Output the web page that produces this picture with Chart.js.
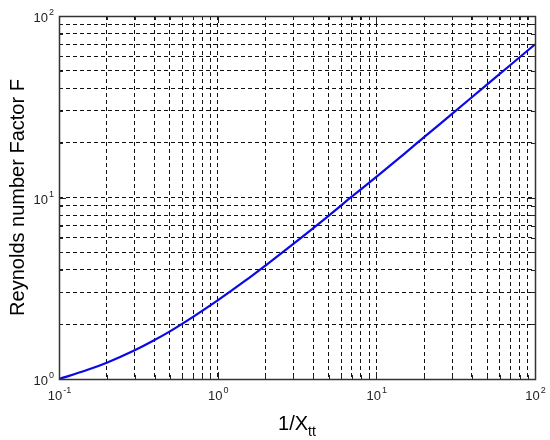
<!DOCTYPE html>
<html>
<head>
<meta charset="utf-8">
<script src="https://cdn.jsdelivr.net/npm/chart.js@4"></script>
<style>
  html, body { margin: 0; padding: 0; background: #fff; }
  #wrap { width: 550px; height: 440px; }
</style>
</head>
<body>
<div id="wrap"><canvas id="myChart" width="550" height="440"></canvas></div>
<script>
// values
var invXtt = [0.1, 0.15, 0.2, 0.3, 0.4, 0.5, 0.7, 1, 1.5, 2, 3, 5, 7, 10, 15, 20, 30, 50, 70, 100];
var factorF = [1.0, 1.12, 1.23, 1.44, 1.64, 1.83, 2.2, 2.71, 3.49, 4.22, 5.55, 7.92, 10.1, 13.0, 17.4, 21.5, 28.9, 42.0, 53.7, 69.8];

// grid lines (1..9 per decade) and labelled decades
var xGrid = [0.1,0.2,0.3,0.4,0.5,0.6,0.7,0.8,0.9,1,2,3,4,5,6,7,8,9,10,20,30,40,50,60,70,80,90,100];
var yGrid = [1,2,3,4,5,6,7,8,9,10,20,30,40,50,60,70,80,90,100];
var xDecades = [[0.1, '-1'], [1, '0'], [10, '1'], [100, '2']];
var yDecades = [[1, '0'], [10, '1'], [100, '2']];

var fontName = '"Liberation Sans", Arial, sans-serif';

function setTicks(list) {
    return function(scale) {
        scale.ticks = list.map(function(v) { return { value: v }; });
    };
}

// frame, inner tick marks, 10^n labels and axis titles (MATLAB style)
var matlabAxes = {
    id: 'matlabAxes',
    afterDraw: function(chart) {
        var ctx = chart.ctx;
        var a = chart.chartArea;
        var xs = chart.scales.x, ys = chart.scales.y;
        ctx.save();

        // tick marks inside the box
        ctx.strokeStyle = '#222';
        ctx.lineWidth = 1;
        ctx.beginPath();
        xGrid.forEach(function(v) {
            var px = Math.round(xs.getPixelForValue(v)) + 0.5;
            var len = xDecades.some(function(d) { return d[0] === v; }) ? 7 : 4;
            ctx.moveTo(px, a.bottom); ctx.lineTo(px, a.bottom - len);
            ctx.moveTo(px, a.top); ctx.lineTo(px, a.top + len);
        });
        yGrid.forEach(function(v) {
            var py = Math.round(ys.getPixelForValue(v)) + 0.5;
            var len = yDecades.some(function(d) { return d[0] === v; }) ? 7 : 4;
            ctx.moveTo(a.left, py); ctx.lineTo(a.left + len, py);
            ctx.moveTo(a.right, py); ctx.lineTo(a.right - len, py);
        });
        ctx.stroke();

        // box
        ctx.strokeStyle = '#333';
        ctx.lineWidth = 1.5;
        ctx.strokeRect(Math.round(a.left) + 0.5, Math.round(a.top) + 0.5,
                       Math.round(a.right - a.left), Math.round(a.bottom - a.top));

        // tick labels
        ctx.fillStyle = '#222';
        ctx.textBaseline = 'alphabetic';
        xDecades.forEach(function(d) {
            var px = xs.getPixelForValue(d[0]);
            ctx.font = '13px ' + fontName;
            var w1 = ctx.measureText('10').width;
            ctx.font = '9px ' + fontName;
            var w2 = ctx.measureText(d[1]).width;
            var x0 = px - (w1 + w2) / 2;
            ctx.font = '13px ' + fontName;
            ctx.textAlign = 'left';
            ctx.fillText('10', x0, a.bottom + 21);
            ctx.font = '9px ' + fontName;
            ctx.fillText(d[1], x0 + w1 + 1, a.bottom + 14);
        });
        yDecades.forEach(function(d) {
            var py = ys.getPixelForValue(d[0]);
            ctx.font = '9px ' + fontName;
            var w2 = ctx.measureText(d[1]).width;
            ctx.textAlign = 'left';
            var xr = a.left - 5;
            ctx.fillText(d[1], xr - w2, py - 1);
            ctx.font = '13px ' + fontName;
            var w1 = ctx.measureText('10').width;
            ctx.fillText('10', xr - w2 - 1 - w1, py + 6);
        });

        // axis titles
        ctx.fillStyle = '#000';
        ctx.font = '20px ' + fontName;
        var t1 = '1/X', sub = 'tt';
        var tw = ctx.measureText(t1).width;
        ctx.font = '14px ' + fontName;
        var sw = ctx.measureText(sub).width;
        var cx = (a.left + a.right) / 2;
        var tx = cx - (tw + sw) / 2;
        ctx.textAlign = 'left';
        ctx.font = '20px ' + fontName;
        ctx.fillText(t1, tx, 430);
        ctx.font = '14px ' + fontName;
        ctx.fillText(sub, tx + tw, 436);

        ctx.translate(24, (a.top + a.bottom) / 2);
        ctx.rotate(-Math.PI / 2);
        ctx.textAlign = 'center';
        ctx.font = '20px ' + fontName;
        ctx.fillText('Reynolds number Factor F', 0, 0);
        ctx.restore();
    }
};

window.onload = function() {
    var ctx = document.getElementById('myChart').getContext('2d');
    var points = invXtt.map(function(x, i) { return { x: x, y: factorF[i] }; });
    var myChart = new Chart(ctx, {
        type: 'line',
        data: {
            datasets: [{
                data: points,
                borderColor: '#0a0ae6',
                borderWidth: 2.2,
                pointRadius: 0,
                fill: false,
                cubicInterpolationMode: 'monotone'
            }]
        },
        options: {
            responsive: false,
            animation: false,
            layout: { padding: { left: 59, right: 15, top: 16, bottom: 61 } },
            plugins: { legend: { display: false }, tooltip: { enabled: false } },
            scales: {
                x: {
                    type: 'logarithmic',
                    min: 0.1, max: 100,
                    afterBuildTicks: setTicks(xGrid),
                    ticks: { display: false },
                    grid: { color: '#111', lineWidth: 1, drawTicks: false },
                    border: { display: false, dash: [4, 3] }
                },
                y: {
                    type: 'logarithmic',
                    min: 1, max: 100,
                    afterBuildTicks: setTicks(yGrid),
                    ticks: { display: false },
                    grid: { color: '#111', lineWidth: 1, drawTicks: false },
                    border: { display: false, dash: [4, 3] }
                }
            }
        },
        plugins: [matlabAxes]
    });
};
</script>
</body>
</html>
